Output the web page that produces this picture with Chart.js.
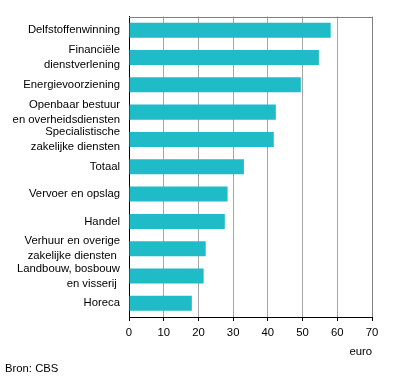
<!DOCTYPE html>
<html>
<head>
<meta charset="utf-8">
<script src="https://cdn.jsdelivr.net/npm/chart.js@4/dist/chart.umd.min.js"></script>
<style>
  html, body { margin: 0; padding: 0; background: #fff; }
  #wrap { position: relative; width: 396px; height: 380px; }
  canvas { position: absolute; left: 0; top: 0; }
  .note { position: absolute; font: 11.3px "Liberation Sans", Arial, sans-serif; color: #000; white-space: nowrap; }
</style>
</head>
<body>
<div id="wrap">
  <canvas id="c" width="396" height="380"></canvas>
  <div class="note" id="unit" style="right:24px; top:345px;">euro</div>
  <div class="note" id="src" style="left:5px; top:362px;">Bron: CBS</div>
</div>
<script>
const categories = [
  "Delfstoffenwinning",
  ["Financiële", "dienstverlening"],
  "Energievoorziening",
  ["Openbaar bestuur", "en overheidsdiensten"],
  ["Specialistische", "zakelijke diensten"],
  "Totaal",
  "Vervoer en opslag",
  "Handel",
  ["Verhuur en overige", "zakelijke diensten "],
  ["Landbouw, bosbouw", "en visserij "],
  "Horeca"
];
const values = [58.1, 54.7, 49.5, 42.3, 41.7, 33.1, 28.4, 27.6, 22.1, 21.5, 18.1];
const xTicks = [0, 10, 20, 30, 40, 50, 60, 70];

const FONT = '"Liberation Sans", Arial, sans-serif';

const frame = {
  id: 'frame',
  afterDraw(chart) {
    const { ctx, chartArea: a } = chart;
    ctx.save();
    ctx.strokeStyle = '#808080';
    ctx.lineWidth = 1;
    ctx.beginPath();
    ctx.moveTo(Math.round(a.left), Math.round(a.top) + 0.5);
    ctx.lineTo(Math.round(a.right) + 1, Math.round(a.top) + 0.5);
    ctx.moveTo(Math.round(a.right) + 0.5, Math.round(a.top));
    ctx.lineTo(Math.round(a.right) + 0.5, Math.round(a.bottom));
    ctx.stroke();
    ctx.restore();
  }
};

new Chart(document.getElementById('c'), {
  type: 'bar',
  data: {
    labels: categories,
    datasets: [{
      data: values,
      backgroundColor: '#1fbbc6',
      borderWidth: 0,
      categoryPercentage: 0.55,
      barPercentage: 1
    }]
  },
  options: {
    indexAxis: 'y',
    responsive: false,
    animation: false,
    devicePixelRatio: 1,
    layout: { padding: { top: 15, right: 24, bottom: 0, left: 0 } },
    plugins: { legend: { display: false }, tooltip: { enabled: false } },
    scales: {
      x: {
        min: 0, max: 70,
        afterBuildTicks(scale) { scale.ticks = xTicks.map(v => ({ value: v })); },
        afterFit(scale) { scale.height = 63; },
        grid: {
          color: (c) => c.index === 0 ? 'rgba(0,0,0,0)' : '#a6a6a6',
          tickColor: '#000',
          tickLength: 4,
          lineWidth: 1
        },
        border: { color: '#000', width: 1 },
        ticks: { color: '#000', font: { family: FONT, size: 11.3 }, padding: 5, maxRotation: 0 }
      },
      y: {
        afterFit(scale) { scale.width = 129; },
        grid: { display: false, drawTicks: false },
        border: { display: true, color: '#000', width: 1 },
        ticks: { color: '#000', font: { family: FONT, size: 11.3, lineHeight: 1.33 }, padding: 9, autoSkip: false }
      }
    }
  },
  plugins: [frame]
});
</script>
</body>
</html>
